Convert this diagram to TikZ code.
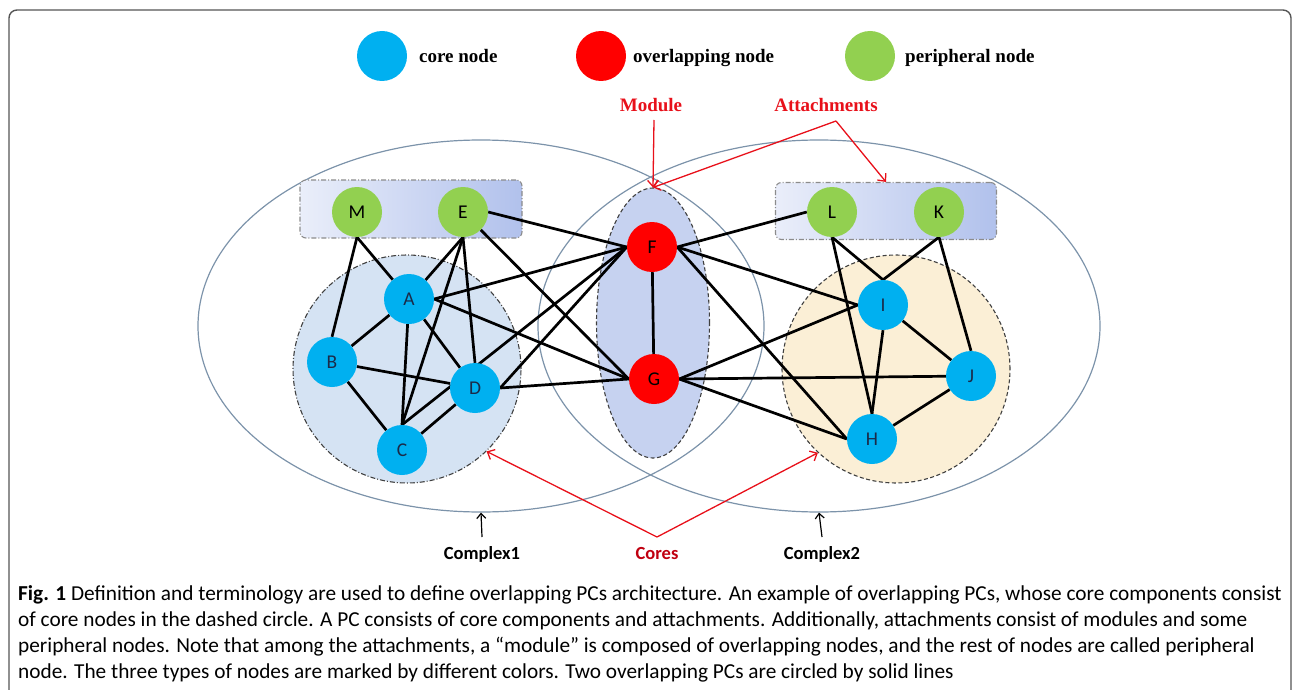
\documentclass[tikz,border=0pt]{standalone}
\usepackage{fontspec}
\setmainfont{Liberation Serif}
\newfontfamily\labelfont{Carlito}
\usepackage{tikz}
\usetikzlibrary{shapes.geometric}
\usetikzlibrary{arrows.meta}
\usetikzlibrary{shapes}

\definecolor{coreblue}{HTML}{00B0F0}
\definecolor{overred}{HTML}{FF0000}
\definecolor{perigreen}{HTML}{92D050}
\definecolor{pcline}{HTML}{7C93AA}
\definecolor{corefillA}{HTML}{D5E3F3}
\definecolor{corefillB}{HTML}{FBEFD6}
\definecolor{modfill}{HTML}{C6D2F0}
\definecolor{attleft}{HTML}{EAEEFA}
\definecolor{attright}{HTML}{B1C1EC}
\definecolor{tagred}{HTML}{E8101A}
\definecolor{coresred}{HTML}{C00010}
\definecolor{navytext}{HTML}{1B2A48}
\definecolor{framegray}{HTML}{555555}
\newcommand{\lf}[1]{\labelfont\fontsize{#1}{#1}\selectfont}
\pgfdeclarelayer{zones}
\pgfdeclarelayer{links}
\pgfsetlayers{zones,links,main}

\begin{document}
\begin{tikzpicture}[x=1pt, y=-1pt,
    pcring/.style={ellipse, draw=pcline, line width=1.2pt, inner sep=0pt},
    corenode/.style={circle, fill=coreblue, minimum size=50pt, inner sep=0pt, font=\lf{19.5}, text=navytext},
    overnode/.style={corenode, fill=overred, text=black},
    perinode/.style={corenode, fill=perigreen, text=black},
    corezone/.style={circle, minimum size=228pt, inner sep=0pt, draw=black!75, line width=1.1pt},
    attbox/.style={rectangle, rounded corners=6pt, inner sep=0pt, minimum height=58pt, minimum width=222pt,
        left color=attleft, right color=attright, draw=black!45, line width=1.1pt,
        dash pattern=on 5pt off 2pt on 1pt off 2pt},
    link/.style={line width=2.7pt, black},
    tag/.style={tagred, line width=1.3pt, -{Straight Barb[length=6pt,width=11pt]}},
    keytext/.style={anchor=base west, inner sep=0pt, font=\fontsize{19}{19}\selectfont\bfseries},
    captext/.style={anchor=base west, inner sep=0pt, font=\lf{21.3}}]

\useasboundingbox (0,0) rectangle (1293,690);
\draw[framegray, line width=1.4pt, rounded corners=8pt] (9,700) -- (9,10) -- (1291,10) -- (1291,700);

\node[corenode] (keycore) at (382,56) {};
\node[keytext] (keycoretext) at (419,63) {core node};
\node[overnode] (keyover) at (601,56) {};
\node[keytext] (keyovertext) at (633,63) {overlapping node};
\node[perinode] (keyperi) at (870,56) {};
\node[keytext] (keyperitext) at (905,63) {peripheral node};

\begin{pgfonlayer}{zones}
\node[pcring, minimum width=566pt, minimum height=372pt] (cplx1) at (481,326) {};
\node[pcring, minimum width=562pt, minimum height=372pt] (cplx2) at (819,326) {};
\node[corezone, fill=corefillA, dash pattern=on 5pt off 2pt on 1pt off 2pt] (leftcore) at (407,369) {};
\node[corezone, fill=corefillB, dash pattern=on 4pt off 2.5pt] (rightcore) at (896,369) {};
\node[ellipse, minimum width=113pt, minimum height=270pt, inner sep=0pt, fill=modfill, draw=black!75,
    line width=1.1pt, dash pattern=on 4pt off 2.5pt] (modulebox) at (653,323) {};
\node[attbox] (leftattach) at (411,209) {};
\node[attbox, minimum width=221pt, minimum height=57pt] (rightattach) at (886,211) {};
\end{pgfonlayer}

\node[perinode] (M) at (357,212) {M};
\node[perinode] (E) at (463,212) {E};
\node[corenode] (A) at (409,299) {A};
\node[corenode] (B) at (332,362) {B};
\node[corenode] (D) at (475,388) {D};
\node[corenode] (C) at (402,450) {C};
\node[overnode] (F) at (652,247) {F};
\node[overnode] (G) at (654,379) {G};
\node[perinode] (L) at (832,212) {L};
\node[perinode] (K) at (939,212) {K};
\node[corenode] (I) at (883,305) {I};
\node[corenode] (J) at (971,376) {J};
\node[corenode] (H) at (872,439) {H};

\begin{pgfonlayer}{links}
\draw[link] (M.south) -- (B.north);
\draw[link] (M.south) -- (A);
\draw[link] (E.south) -- (A);
\draw[link] (E.south) -- (C.north);
\draw[link] (E.south) -- (D.north);
\draw[link] (E.east) -- (F.west);
\draw[link] (E) -- (G.west);
\draw[link] (A) -- (B);
\draw[link] (A) -- (C.north);
\draw[link] (A) -- (D);
\draw[link] (A.east) -- (F.west);
\draw[link] (A.east) -- (G.west);
\draw[link] (B) -- (D);
\draw[link] (B) -- (C);
\draw[link] (C) -- (D);
\draw[link] (C.north) -- (F.west);
\draw[link] (D.east) -- (F.west);
\draw[link] (D.east) -- (G.west);
\draw[link] (F) -- (G);
\draw[link] (F.east) -- (L.west);
\draw[link] (F.east) -- (I.west);
\draw[link] (F.east) -- (H.west);
\draw[link] (G.east) -- (I.west);
\draw[link] (G.east) -- (J);
\draw[link] (G.east) -- (H.west);
\draw[link] (L.south) -- (I.north);
\draw[link] (L.south) -- (H.north);
\draw[link] (K.south) -- (I.north);
\draw[link] (K.south) -- (J.north);
\draw[link] (I) -- (J);
\draw[link] (I.south) -- (H.north);
\draw[link] (H) -- (J);
\end{pgfonlayer}

\node[keytext, anchor=base, text=tagred] (module) at (651,112) {Module};
\node[keytext, anchor=base, text=tagred] (attach) at (826,112) {Attachments};
\coordinate (attachjoin) at (836,121);
\draw[tag] (654,120) -- (modulebox.north);
\draw[tag] (attachjoin) -- (modulebox.north);
\draw[tag] (attachjoin) -- (rightattach.north);

\node[anchor=base, inner sep=0pt, font=\lf{18.5}\bfseries] (cplx1text) at (482,559) {Complex1};
\node[anchor=base, inner sep=0pt, font=\lf{18.5}\bfseries] (cplx2text) at (822,559) {Complex2};
\node[anchor=base, inner sep=0pt, font=\lf{18.5}\bfseries, text=coresred] (cores) at (657,559) {Cores};
\draw[-{Straight Barb[length=5pt,width=9pt]}, line width=1.2pt] (482,537) -- (cplx1.south);
\draw[-{Straight Barb[length=5pt,width=9pt]}, line width=1.2pt] (822,537) -- (cplx2.south);
\coordinate (corejoin) at (657,537);
\draw[tag] (corejoin) -- (leftcore.-46);
\draw[tag] (corejoin) -- (rightcore.-133);

\node[captext] (cap1) at (18,600) {\textbf{Fig. 1} Definition and terminology are used to define overlapping PCs architecture. An example of overlapping PCs, whose core components consist};
\node[captext] (cap2) at (18,626) {of core nodes in the dashed circle. A PC consists of core components and attachments. Additionally, attachments consist of modules and some};
\node[captext] (cap3) at (18,652) {peripheral nodes. Note that among the attachments, a “module” is composed of overlapping nodes, and the rest of nodes are called peripheral};
\node[captext] (cap4) at (18,678) {node. The three types of nodes are marked by different colors. Two overlapping PCs are circled by solid lines};
\end{tikzpicture}
\end{document}
